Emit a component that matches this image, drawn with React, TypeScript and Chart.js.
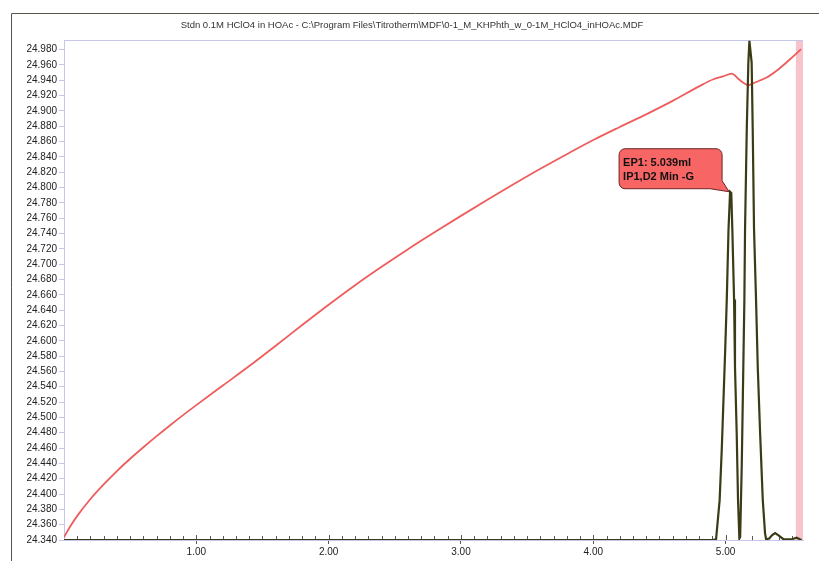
import React, { useEffect, useRef } from "react";
import { Chart, registerables } from "chart.js";

Chart.register(...registerables);

const titleText =
  "Stdn 0.1M HClO4 in HOAc - C:\\Program Files\\Titrotherm\\MDF\\0-1_M_KHPhth_w_0-1M_HClO4_inHOAc.MDF";

// Temperature curve (red)
const tempX = [0, 0.05, 0.1, 0.2, 0.3, 0.4, 0.5, 0.6, 0.7, 0.8, 0.9, 1.0, 1.2, 1.4, 1.6, 1.8, 2.0, 2.2, 2.4, 2.6, 2.8, 3.0, 3.2, 3.4, 3.6, 3.8, 4.0, 4.2, 4.4, 4.6, 4.8, 4.908, 4.98, 5.047, 5.1, 5.14, 5.172, 5.2, 5.25, 5.31, 5.4, 5.487, 5.57];
const tempY = [24.3435, 24.3585, 24.3715, 24.3935, 24.4125, 24.43, 24.446, 24.461, 24.4755, 24.4895, 24.503, 24.516, 24.5415, 24.567, 24.5935, 24.6205, 24.647, 24.6725, 24.6965, 24.7195, 24.7415, 24.763, 24.784, 24.8045, 24.8245, 24.8435, 24.862, 24.879, 24.8955, 24.913, 24.932, 24.9413, 24.9449, 24.9487, 24.9413, 24.936, 24.9335, 24.9352, 24.939, 24.9435, 24.9544, 24.9674, 24.9805];

// Derivative curve (dark olive)
const derivX = [0, 4.9, 4.928, 4.955, 4.971, 4.984, 4.997, 5.009, 5.022, 5.034, 5.043, 5.051, 5.064, 5.071, 5.084, 5.094, 5.104, 5.11, 5.122, 5.13, 5.142, 5.147, 5.16, 5.172, 5.18, 5.197, 5.205, 5.215, 5.23, 5.243, 5.261, 5.281, 5.298, 5.306, 5.33, 5.35, 5.374, 5.4, 5.437, 5.5, 5.537, 5.56, 5.575];
const derivY = [24.34, 24.34, 24.341, 24.392, 24.458, 24.523, 24.588, 24.654, 24.745, 24.7945, 24.793, 24.745, 24.654, 24.566, 24.479, 24.392, 24.342, 24.344, 24.436, 24.523, 24.654, 24.745, 24.876, 24.963, 24.9914, 24.963, 24.876, 24.745, 24.654, 24.566, 24.479, 24.392, 24.349, 24.341, 24.342, 24.346, 24.349, 24.346, 24.341, 24.341, 24.343, 24.341, 24.34];

const yTicks = [24.34, 24.36, 24.38, 24.4, 24.42, 24.44, 24.46, 24.48, 24.5, 24.52, 24.54, 24.56, 24.58, 24.6, 24.62, 24.64, 24.66, 24.68, 24.7, 24.72, 24.74, 24.76, 24.78, 24.8, 24.82, 24.84, 24.86, 24.88, 24.9, 24.92, 24.94, 24.96, 24.98];
const xTicks = [1, 2, 3, 4, 5];
const xMin = 0;
const xMax = 5.585;
const yMin = 24.34;
const yMax = 24.9925;
const bandStart = 5.531;

const annotationLines = ["EP1: 5.039ml", "IP1,D2 Min -G"];
const epIndex = 9; // index into derivX/derivY of the EP1 peak

const FONT = '"Liberation Sans", Arial, sans-serif';
const LAVENDER = "#c6c6ea";

const decorPlugin = {
  id: "decor",
  beforeDraw(chart: any) {
    const ctx = chart.ctx;
    ctx.save();
    ctx.fillStyle = "#ffffff";
    ctx.fillRect(0, 0, chart.width, chart.height);
    // window frame
    ctx.strokeStyle = "#55554a";
    ctx.lineWidth = 1;
    ctx.beginPath();
    ctx.moveTo(11.5, chart.height);
    ctx.lineTo(11.5, 13.5);
    ctx.lineTo(chart.width, 13.5);
    ctx.stroke();
    // title
    ctx.fillStyle = "#333333";
    ctx.font = "9.5px " + FONT;
    ctx.textAlign = "center";
    ctx.textBaseline = "middle";
    ctx.fillText(titleText, 412, 25);
    ctx.restore();
  },
  beforeDatasetsDraw(chart: any) {
    const ctx = chart.ctx;
    const x = chart.scales.x;
    const a = chart.chartArea;
    ctx.save();
    const bx = x.getPixelForValue(bandStart);
    ctx.fillStyle = "#f8c4cc";
    ctx.fillRect(bx, a.top, a.right - bx, a.bottom - a.top);
    ctx.strokeStyle = LAVENDER;
    ctx.lineWidth = 1;
    ctx.beginPath();
    ctx.moveTo(a.left, a.top + 0.5);
    ctx.lineTo(a.right, a.top + 0.5);
    ctx.stroke();
    // minor ticks pointing up
    ctx.strokeStyle = "#5a5a50";
    ctx.beginPath();
    for (let k = 1; k * 0.1 < xMax; k++) {
      const px = Math.round(x.getPixelForValue(k * 0.1)) + 0.5;
      const len = k % 10 === 0 ? 5 : 4;
      ctx.moveTo(px, a.bottom);
      ctx.lineTo(px, a.bottom - len);
    }
    ctx.stroke();
    ctx.restore();
  },
  afterDatasetsDraw(chart: any) {
    const ctx = chart.ctx;
    const x = chart.scales.x;
    const y = chart.scales.y;
    const ax = x.getPixelForValue(derivX[epIndex]);
    const ay = y.getPixelForValue(derivY[epIndex]);
    const R = ax - 8;
    const B = ay - 3;
    const L = R - 103;
    const T = B - 40;
    const r = 6;
    ctx.save();
    ctx.beginPath();
    ctx.moveTo(L + r, T);
    ctx.lineTo(R - r, T);
    ctx.arcTo(R, T, R, T + r, r);
    ctx.lineTo(R, B - 8);
    ctx.lineTo(ax - 1, ay);
    ctx.lineTo(R - 12, B);
    ctx.lineTo(L + r, B);
    ctx.arcTo(L, B, L, B - r, r);
    ctx.lineTo(L, T + r);
    ctx.arcTo(L, T, L + r, T, r);
    ctx.closePath();
    ctx.fillStyle = "#f76565";
    ctx.fill();
    ctx.strokeStyle = "#6e2424";
    ctx.lineWidth = 1;
    ctx.stroke();
    ctx.fillStyle = "#111111";
    ctx.font = "bold 11px " + FONT;
    ctx.textAlign = "left";
    ctx.textBaseline = "middle";
    ctx.fillText(annotationLines[0], L + 4, T + 14);
    ctx.fillText(annotationLines[1], L + 4, T + 28);
    ctx.restore();
  },
};

export default function App() {
  const ref = useRef<HTMLCanvasElement | null>(null);
  useEffect(() => {
    if (!ref.current) return;
    const chart = new Chart(ref.current, {
      type: "line",
      data: {
        datasets: [
          {
            label: "Temp",
            data: tempX.map((v, i) => ({ x: v, y: tempY[i] })),
            borderColor: "#ee5d5d",
            borderWidth: 1.8,
            pointRadius: 0,
            cubicInterpolationMode: "monotone",
            order: 2,
          },
          {
            label: "Deriv",
            data: derivX.map((v, i) => ({ x: v, y: derivY[i] })),
            borderColor: "#3b3b16",
            borderWidth: 2.2,
            pointRadius: 0,
            tension: 0,
            order: 1,
          },
        ],
      },
      options: {
        responsive: false,
        animation: false,
        layout: { padding: { left: 0, top: 40, right: 16, bottom: 0 } },
        plugins: { legend: { display: false }, tooltip: { enabled: false }, title: { display: false } },
        scales: {
          x: {
            type: "linear",
            min: xMin,
            max: xMax,
            afterFit: (s: any) => { s.height = 21; },
            afterBuildTicks: (s: any) => { s.ticks = xTicks.map((v) => ({ value: v })); },
            border: { display: true, color: LAVENDER, width: 1 },
            grid: { drawOnChartArea: false, tickLength: 4, color: "#5a5a50" },
            ticks: {
              autoSkip: false,
              maxRotation: 0,
              padding: 2,
              color: "#222",
              font: { family: FONT, size: 10 },
              callback: (v: any) => Number(v).toFixed(2),
            },
          },
          y: {
            type: "linear",
            min: yMin,
            max: yMax,
            afterFit: (s: any) => { s.width = 64; },
            afterBuildTicks: (s: any) => { s.ticks = yTicks.map((v) => ({ value: v })); },
            border: { display: true, color: LAVENDER, width: 1 },
            grid: { drawOnChartArea: false, tickLength: 5, color: LAVENDER },
            ticks: {
              autoSkip: false,
              padding: 2,
              color: "#222",
              font: { family: FONT, size: 10 },
              callback: (v: any) => Number(v).toFixed(3),
            },
          },
        },
      },
      plugins: [decorPlugin],
    } as any);
    return () => chart.destroy();
  }, []);
  return (
    <div style={{ position: "fixed", left: 0, top: 0, width: 819, height: 561, background: "#fff" }}>
      <canvas ref={ref} width={819} height={561} style={{ display: "block" }} />
    </div>
  );
}
